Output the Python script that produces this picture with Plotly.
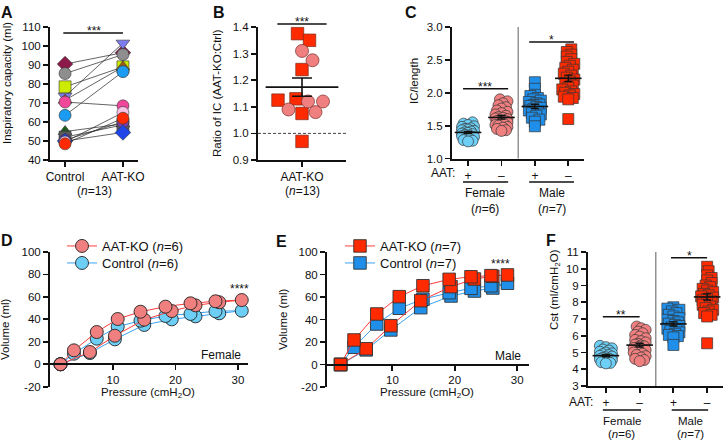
import plotly.graph_objects as go
import math

W, H = 724, 442
FONT = "Liberation Sans, Arial, Helvetica, sans-serif"
BLACK = "#111111"

# ---------------- data ----------------
# Panel A: inspiratory capacity (ml), paired per mouse
A_categories = ["Control", "AAT-KO"]
A_control = [90.5, 85.5, 78.5, 73.5, 71.5, 70.5, 63.5, 55.0, 52.0, 50.5, 50.0, 49.5, 48.5]
A_aatko = [96.5, 95.5, 89.0, 101.5, 89.0, 68.5, 86.5, 59.0, 58.5, 60.0, 54.5, 65.0, 62.0]

# Panel B: ratio of IC (AAT-KO:Ctrl)
B_category = ["AAT-KO"]
B_male_ratio = [1.375, 1.35, 1.24, 1.13, 1.125, 1.075, 0.97]
B_female_ratio = [1.31, 1.275, 1.12, 1.09, 1.12, 1.08]

# Panel C: IC/length
C_tick_labels = ["+", "\u2013", "+", "\u2013"]
C_female_ctrl = [1.55, 1.53, 1.51, 1.49, 1.48, 1.46, 1.45, 1.44, 1.43, 1.42, 1.41, 1.40,
                 1.39, 1.38, 1.37, 1.36, 1.35, 1.34, 1.33, 1.31, 1.30, 1.28, 1.27, 1.26]
C_female_ko = [1.90, 1.87, 1.84, 1.81, 1.78, 1.76, 1.73, 1.71, 1.69, 1.67, 1.65, 1.63, 1.62, 1.61,
               1.60, 1.59, 1.58, 1.57, 1.55, 1.54, 1.52, 1.51, 1.50, 1.48, 1.47, 1.45, 1.43, 1.42]
C_male_ctrl = [2.16, 2.06, 1.97, 1.95, 1.92, 1.90, 1.88, 1.86, 1.84, 1.82, 1.81, 1.80,
               1.78, 1.77, 1.75, 1.73, 1.71, 1.69, 1.67, 1.65, 1.62, 1.59, 1.56, 1.49]
C_male_ko = [2.66, 2.62, 2.58, 2.55, 2.51, 2.47, 2.44, 2.41, 2.38, 2.35, 2.32, 2.29, 2.26, 2.23,
             2.20, 2.17, 2.14, 2.11, 2.08, 2.05, 2.02, 2.00, 1.98, 1.96, 1.94, 1.92, 1.90, 1.60]

# Panel D: female pressure-volume loops (inflation then deflation)
D_pressure = [1.6, 6.3, 10.3, 15.0, 19.4, 23.2, 27.0, 30.6, 26.4, 22.4, 18.4, 14.4, 10.75, 7.4, 3.75, 1.6]
D_aatko = [0, 10.9, 25.4, 39.7, 47.4, 52.5, 55.2, 57.2, 56.1, 54.3, 51.3, 46.8, 40.3, 28.7, 12.4, 0]
D_control = [0, 10.0, 22.2, 35.0, 40.0, 42.7, 45.4, 47.7, 47.2, 44.8, 43.0, 38.8, 33.5, 22.8, 9.4, 0]

# Panel E: male pressure-volume loops
E_pressure = [1.7, 5.8, 9.75, 14.55, 19.4, 23.15, 26.1, 28.45, 25.8, 22.6, 19.1, 14.9, 11.1, 7.5, 3.85, 1.7]
E_aatko = [0, 14.0, 34.5, 56.7, 69.2, 76.0, 78.4, 79.6, 79.0, 78.0, 75.7, 70.0, 60.3, 44.9, 21.8, 0]
E_control = [0, 13.0, 30.7, 50.5, 60.9, 65.3, 68.0, 72.2, 70.0, 67.7, 63.8, 58.0, 50.0, 36.0, 15.3, 0]

# Panel F: Cst (ml/cmH2O)
F_female_ctrl = [5.40, 5.32, 5.25, 5.18, 5.12, 5.05, 5.00, 4.95, 4.90, 4.85, 4.80,
                 4.76, 4.72, 4.68, 4.64, 4.60, 4.55, 4.50, 4.46, 4.42, 4.38, 4.35]
F_female_ko = [6.55, 6.45, 6.35, 6.25, 6.15, 6.05, 5.95, 5.85, 5.75, 5.68, 5.60, 5.52, 5.47, 5.42,
               5.37, 5.32, 5.27, 5.22, 5.15, 5.08, 5.00, 4.93, 4.85, 4.78, 4.70, 4.62, 4.55, 4.48]
F_male_ctrl = [7.70, 7.62, 7.55, 7.45, 7.35, 7.25, 7.15, 7.05, 6.95, 6.88, 6.80, 6.72,
               6.65, 6.58, 6.50, 6.42, 6.35, 6.28, 6.20, 6.12, 6.05, 5.98, 5.90, 5.45]
F_male_ko = [10.12, 9.85, 9.60, 9.45, 9.30, 9.15, 9.00, 8.90, 8.80, 8.70, 8.60, 8.50, 8.42, 8.35,
             8.28, 8.20, 8.12, 8.05, 7.95, 7.85, 7.75, 7.65, 7.55, 7.45, 7.35, 7.25, 7.15, 5.55]

PV_ticks = [-20, 0, 20, 40, 60, 80, 100]

# ---------------- styles ----------------
A_symbols = ["diamond", "circle", "square", "triangle-down", "triangle-up", "circle", "circle",
             "triangle-up", "square", "circle", "diamond", "circle", "circle"]
A_colors = ["#8B1A4B", "#8E8E8E", "#CDEB00", "#7C7CF0", "#9C5A1A", "#F0479B", "#1B9CF2",
            "#1F5B1F", "#5A5A5A", "#7B3FB5", "#1F45E8", "#F7C2E4", "#FF2A00"]
LBLUE = "#6DCFF6"
SALMON = "#F08080"
BLUE = "#1F8FEA"
RED = "#FF2A00"
RED_LINE = "#FF3B3B"
BLUE_LINE = "#3AA2F0"


def P(px):
    return px / W


def Q(py):
    return 1 - py / H


def mean_sem(v):
    n = len(v)
    m = sum(v) / n
    sd = math.sqrt(sum((x - m) ** 2 for x in v) / (n - 1))
    return m, sd / math.sqrt(n)


def swarm(vals, ypx, xpx, diam, maxw, frac):
    """simple beeswarm layout: returns x offsets (axis units)"""
    order = sorted(range(len(vals)), key=lambda i: vals[i])
    cands = [0.0]
    k = 1
    while k * 1.5 <= maxw:
        cands += [k * 1.5, -k * 1.5]
        k += 1
    placed, offs = [], [0.0] * len(vals)
    for i in order:
        y = vals[i] * ypx
        best, bestd = 0.0, -1
        for c in cands:
            d = min([math.hypot(c - px, y - py) for px, py in placed] or [1e9])
            if d >= diam * frac:
                best = c
                break
            if d > bestd:
                bestd, best = d, c
        placed.append((best, y))
        offs[i] = best / xpx
    return offs


# ---------------- geometry (pixel boxes of the six panels) ----------------
dom = {
    "A": dict(x=(50, 138), y=(27, 160), xr=[-0.26, 1.26], yr=[40, 110]),
    "B": dict(x=(258, 346), y=(27, 160), xr=[-0.5, 0.5], yr=[0.9, 1.4]),
    "C": dict(x=(452, 584), y=(27, 158.5), xr=[-0.48, 3.47], yr=[1, 3]),
    "D": dict(x=(50, 248), y=(252, 386.7), xr=[-0.08, 31.6], yr=[-20, 100]),
    "E": dict(x=(327, 529), y=(252, 387), xr=[-0.48, 31.9], yr=[-20, 100]),
    "F": dict(x=(588, 723), y=(252, 386), xr=[-0.53, 3.47], yr=[3, 11]),
}
ids = {"A": ("x", "y"), "B": ("x2", "y2"), "C": ("x3", "y3"),
       "D": ("x4", "y4"), "E": ("x5", "y5"), "F": ("x6", "y6")}


def ppu(key):
    d = dom[key]
    xp = (d["x"][1] - d["x"][0]) / (d["xr"][1] - d["xr"][0])
    yp = (d["y"][1] - d["y"][0]) / (d["yr"][1] - d["yr"][0])
    return xp, yp


fig = go.Figure()
YTF = dict(family=FONT, size=11.5, color=BLACK)
XTF = dict(family=FONT, size=12, color=BLACK)

# ---------------- Panel A ----------------
for i in range(len(A_control)):
    fig.add_trace(go.Scatter(
        x=[0, 1], y=[A_control[i], A_aatko[i]], xaxis="x", yaxis="y",
        mode="lines+markers", showlegend=False, cliponaxis=False,
        line=dict(color="#222222", width=0.7),
        marker=dict(symbol=A_symbols[i], color=A_colors[i], size=12,
                    line=dict(color="#333333", width=0.6))))

# ---------------- Panel B ----------------
xpB, ypB = ppu("B")
B_all = B_male_ratio + B_female_ratio
offB = swarm(B_all, ypB, xpB, 13, 30, 1.0)
nm = len(B_male_ratio)
fig.add_trace(go.Scatter(x=offB[:nm], y=B_male_ratio, xaxis="x2", yaxis="y2", mode="markers",
                         showlegend=False, cliponaxis=False,
                         marker=dict(symbol="square", size=12.5, color=RED,
                                     line=dict(color="#7a2a1a", width=0.7))))
fig.add_trace(go.Scatter(x=offB[nm:], y=B_female_ratio, xaxis="x2", yaxis="y2", mode="markers",
                         showlegend=False, cliponaxis=False,
                         marker=dict(symbol="circle", size=13, color=SALMON,
                                     line=dict(color="#7a2a2a", width=0.7))))
mB, sB = mean_sem(B_all)
# line-ew symbols are drawn 1.4 x marker size long
fig.add_trace(go.Scatter(x=[0], y=[mB], xaxis="x2", yaxis="y2", mode="markers", showlegend=False,
                         cliponaxis=False,
                         marker=dict(symbol="line-ew", size=52, line=dict(color=BLACK, width=1.6)),
                         error_y=dict(type="data", array=[sB], width=10, thickness=1.6, color=BLACK)))


def group_scatter(key, groups, colors, symbols, diam, maxw, frac, mean_w):
    xa, ya = ids[key]
    xp, yp = ppu(key)
    for g, (vals, col, sym) in enumerate(zip(groups, colors, symbols)):
        off = swarm(vals, yp, xp, diam, maxw, frac)
        fig.add_trace(go.Scatter(x=[g + o for o in off], y=vals, xaxis=xa, yaxis=ya, mode="markers",
                                 showlegend=False, cliponaxis=False,
                                 marker=dict(symbol=sym, size=diam, color=col,
                                             line=dict(color="#333333", width=0.7))))
    for g, vals in enumerate(groups):
        m, s = mean_sem(vals)
        fig.add_trace(go.Scatter(x=[g], y=[m], xaxis=xa, yaxis=ya, mode="markers", showlegend=False,
                                 cliponaxis=False,
                                 marker=dict(symbol="line-ew", size=mean_w, line=dict(color=BLACK, width=1.6)),
                                 error_y=dict(type="data", array=[s], width=4, thickness=1.4, color=BLACK)))


# ---------------- Panel C ----------------
group_scatter("C", [C_female_ctrl, C_female_ko, C_male_ctrl, C_male_ko],
              [LBLUE, SALMON, BLUE, RED], ["circle", "circle", "square", "square"],
              11, 7, 0.4, 19)

# ---------------- Panel F ----------------
group_scatter("F", [F_female_ctrl, F_female_ko, F_male_ctrl, F_male_ko],
              [LBLUE, SALMON, BLUE, RED], ["circle", "circle", "square", "square"],
              11, 7, 0.4, 19)

# ---------------- Panel D ----------------
fig.add_trace(go.Scatter(x=D_pressure, y=D_control, xaxis="x4", yaxis="y4", mode="lines+markers",
                         name="Control (<i>n</i>=6)", legend="legend2", cliponaxis=False,
                         line=dict(color=BLUE_LINE, width=1),
                         marker=dict(symbol="circle", size=13, color=LBLUE, line=dict(color="#222222", width=0.9))))
fig.add_trace(go.Scatter(x=D_pressure, y=D_aatko, xaxis="x4", yaxis="y4", mode="lines+markers",
                         name="AAT-KO (<i>n</i>=6)", legend="legend", cliponaxis=False,
                         line=dict(color=RED_LINE, width=1),
                         marker=dict(symbol="circle", size=13, color=SALMON, line=dict(color="#222222", width=0.9))))

# ---------------- Panel E ----------------
fig.add_trace(go.Scatter(x=E_pressure, y=E_control, xaxis="x5", yaxis="y5", mode="lines+markers",
                         name="Control (<i>n</i>=7)", legend="legend4", cliponaxis=False,
                         line=dict(color=BLUE_LINE, width=1),
                         marker=dict(symbol="square", size=12.5, color=BLUE, line=dict(color="#333333", width=0.9))))
fig.add_trace(go.Scatter(x=E_pressure, y=E_aatko, xaxis="x5", yaxis="y5", mode="lines+markers",
                         name="AAT-KO (<i>n</i>=7)", legend="legend3", cliponaxis=False,
                         line=dict(color=RED_LINE, width=1),
                         marker=dict(symbol="square", size=12.5, color=RED, line=dict(color="#333333", width=0.9))))

# ---------------- axes ----------------
common = dict(showline=True, linecolor=BLACK, linewidth=2, ticks="outside", ticklen=5, tickwidth=1.8,
              tickcolor=BLACK, showgrid=False, zeroline=False, fixedrange=True)
layout_axes = {}
xtick = {
    "A": dict(tickvals=[0, 1], ticktext=A_categories),
    "B": dict(tickvals=[0], ticktext=B_category),
    "C": dict(tickvals=[0, 1, 2, 3], ticktext=C_tick_labels),
    "D": dict(tickvals=[10, 20, 30]),
    "E": dict(tickvals=[10, 20, 30]),
    "F": dict(tickvals=[0, 1, 2, 3], ticktext=C_tick_labels),
}
ytick = {
    "A": dict(dtick=10, tick0=40),
    "B": dict(dtick=0.1, tick0=0.9, tickformat=".1f"),
    "C": dict(dtick=0.5, tick0=1, tickformat=".1f"),
    "D": dict(tickvals=PV_ticks, ticktext=[str(v) for v in PV_ticks]),
    "E": dict(tickvals=PV_ticks, ticktext=[str(v) for v in PV_ticks]),
    "F": dict(dtick=1, tick0=3),
}
for key, (xa, ya) in ids.items():
    d = dom[key]
    xname = "xaxis" + xa[1:]
    yname = "yaxis" + ya[1:]
    ydom = [Q(d["y"][1]), Q(d["y"][0])]
    xfont = YTF if key in ("D", "E") else XTF
    xd = dict(common, tickfont=xfont, domain=[P(d["x"][0]), P(d["x"][1])], range=d["xr"], **xtick[key])
    if key in ("D", "E"):
        # x axis crosses at volume = 0
        frac0 = (0 - d["yr"][0]) / (d["yr"][1] - d["yr"][0])
        xd.update(anchor="free", position=ydom[0] + frac0 * (ydom[1] - ydom[0]))
    else:
        xd.update(anchor=ya)
    layout_axes[xname] = xd
    layout_axes[yname] = dict(common, tickfont=YTF, domain=ydom, range=d["yr"], anchor=xa, **ytick[key])

fig.update_layout(**layout_axes)

# ---------------- annotations & shapes ----------------
ann = []
shapes = []
AF = dict(family=FONT, size=12, color=BLACK)


def text(t, x, y, xref="paper", yref="paper", size=12, angle=0, xa="center", ya="middle", bold=False, yshift=0):
    f = dict(AF, size=size)
    if bold:
        t = "<b>" + t + "</b>"
    ann.append(dict(text=t, x=x, y=y, xref=xref, yref=yref, showarrow=False, textangle=angle,
                    xanchor=xa, yanchor=ya, font=f, yshift=yshift, borderpad=0))


def hbar(x0, x1, y, xref, yref="paper", width=1.5):
    shapes.append(dict(type="line", x0=x0, x1=x1, y0=y, y1=y, xref=xref, yref=yref,
                       line=dict(color=BLACK, width=width)))


# panel letters
for lab, px, py in [("A", 0, 3), ("B", 212, 3), ("C", 404, 3), ("D", 0, 231), ("E", 275, 232), ("F", 545, 231)]:
    text(lab, P(px), Q(py), size=16, xa="left", ya="top", bold=True)

# y titles
text("Inspiratory capacity (ml)", P(7), Q(83), angle=-90, size=11.5)
text("Ratio of IC (AAT-KO:Ctrl)", P(217), Q(93), angle=-90, size=11.5)
text("IC/length", P(414), Q(81), angle=-90, size=11.5)
text("Volume (ml)", P(5), Q(329), angle=-90, size=11.5)
text("Volume (ml)", P(283), Q(319), angle=-90, size=11.5)
text("Cst (ml/cmH<sub>2</sub>O)", P(555), Q(290), angle=-90, size=11.5)

# A
text("(<i>n</i>=13)", 0.5, Q(191), xref="x")
hbar(-0.03, 1.0, 106.8, "x", "y")
text("***", 0.5, 106.8, xref="x", yref="y", size=12, ya="bottom", yshift=-6)
# B
text("(<i>n</i>=13)", 0, Q(191), xref="x2")
hbar(-0.28, 0.28, Q(24), "x2")
text("***", 0, Q(24), xref="x2", size=12, ya="bottom", yshift=-6)
shapes.append(dict(type="line", xref="x2 domain", yref="y2", x0=0, x1=1, y0=1.0, y1=1.0,
                   line=dict(color=BLACK, width=0.8, dash="3px,2px")))

# C
shapes.append(dict(type="line", xref="x3", yref="y3 domain", x0=1.5, x1=1.5, y0=0, y1=1,
                   line=dict(color="#333333", width=0.8)))
hbar(-0.15, 1.2, 2.06, "x3", "y3")
text("***", 0.52, 2.06, xref="x3", yref="y3", size=12, ya="bottom", yshift=-6)
hbar(1.83, 3.17, 2.77, "x3", "y3")
text("*", 2.5, 2.77, xref="x3", yref="y3", size=12, ya="bottom", yshift=-6)
text("AAT:", -0.36, Q(173), xref="x3", xa="right")
hbar(-0.15, 1.2, Q(182), "x3")
hbar(1.83, 3.17, Q(182), "x3")
text("Female", 0.52, Q(193), xref="x3")
text("(<i>n</i>=6)", 0.52, Q(209), xref="x3")
text("Male", 2.5, Q(193), xref="x3")
text("(<i>n</i>=7)", 2.5, Q(209), xref="x3")

# F
shapes.append(dict(type="line", xref="x6", yref="y6 domain", x0=1.48, x1=1.48, y0=0, y1=1,
                   line=dict(color="#333333", width=0.8)))
hbar(-0.09, 1.0, 7.14, "x6", "y6")
text("**", 0.45, 7.14, xref="x6", yref="y6", size=12, ya="bottom", yshift=-6)
hbar(1.93, 3.0, 10.66, "x6", "y6")
text("*", 2.47, 10.66, xref="x6", yref="y6", size=12, ya="bottom", yshift=-6)
text("AAT:", -0.36, Q(401.5), xref="x6", xa="right")
hbar(-0.09, 1.04, Q(410), "x6")
hbar(1.95, 3.03, Q(410), "x6")
text("Female", 0.47, Q(421), xref="x6", size=11.5)
text("(<i>n</i>=6)", 0.47, Q(434), xref="x6", size=11.5)
text("Male", 2.5, Q(421), xref="x6", size=11.5)
text("(<i>n</i>=7)", 2.5, Q(434), xref="x6", size=11.5)

# D
text("Female", 27.3, 8.2, xref="x4", yref="y4")
text("****", 30.3, 65, xref="x4", yref="y4", ya="bottom", yshift=-6)
text("Pressure (cmH<sub>2</sub>O)", P(148), Q(393), size=11.5)
# E
text("Male", 28.6, 8.0, xref="x5", yref="y5")
text("****", 27.3, 88, xref="x5", yref="y5", ya="bottom", yshift=-6)
text("Pressure (cmH<sub>2</sub>O)", P(427), Q(393), size=11.5)

legend_style = dict(xanchor="left", yanchor="middle", bgcolor="rgba(0,0,0,0)", borderwidth=0,
                    font=dict(family=FONT, size=13, color=BLACK), itemsizing="trace")
fig.update_layout(
    width=W, height=H, margin=dict(l=0, r=0, t=0, b=0, autoexpand=False),
    paper_bgcolor="white", plot_bgcolor="white",
    font=dict(family=FONT, color=BLACK),
    annotations=ann, shapes=shapes,
    legend=dict(legend_style, x=P(62), y=Q(246)),
    legend2=dict(legend_style, x=P(62), y=Q(263)),
    legend3=dict(legend_style, x=P(340), y=Q(246)),
    legend4=dict(legend_style, x=P(340), y=Q(263)),
)

fig.write_html("out.html", config={"displayModeBar": False, "staticPlot": True},
               post_script="document.body.style.margin='0px';document.body.style.overflow='hidden';")
